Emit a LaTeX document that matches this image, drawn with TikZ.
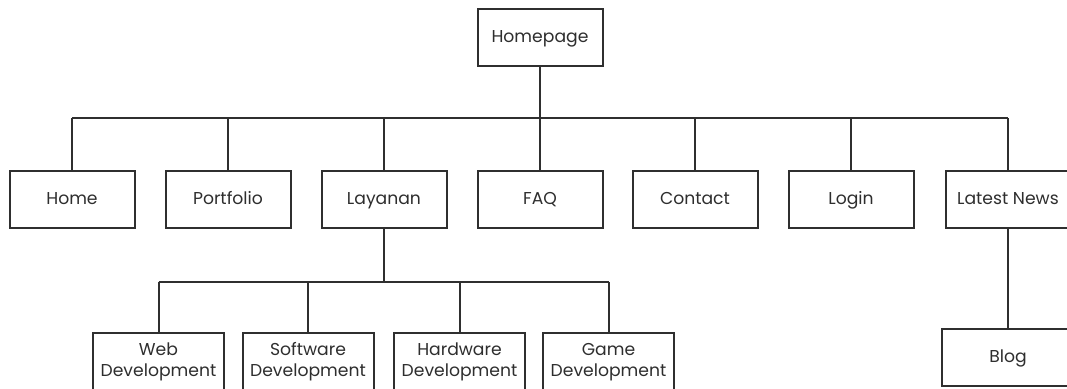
\documentclass[tikz,border=0pt]{standalone}
\usepackage{fontspec}
\setmainfont{Poppins}
\usepackage{xcolor}
\usetikzlibrary{positioning,calc}

\definecolor{linegray}{HTML}{2F2F2F}
\definecolor{textgray}{HTML}{2E2E2E}

\tikzset{
    pagebase/.style={draw=linegray, line width=1pt, fill=white, text=textgray,
        minimum width=62.5pt, minimum height=28.5pt, inner sep=0pt,
        font=\fontsize{8.6}{10.4}\selectfont},
    page/.style={pagebase, text height=6.4pt, text depth=1.8pt},
    subpage/.style={pagebase, minimum width=65.5pt, minimum height=29pt, align=center},
    link/.style={draw=linegray, line width=1pt}
}

\begin{document}
\begin{tikzpicture}[x=0.5pt, y=-0.5pt]
    \useasboundingbox (0,0) rectangle (1067,389);
    \clip (0,0) rectangle (1067,389);

    % Top
    \node[page] (hp) at (540,38) {Homepage};

    % Main menu
    \node[page] (home) at (72,200) {Home};
    \node[page] (portfolio) at (228,200) {Portfolio};
    \node[page] (layanan) at (384,200) {Layanan};
    \node[page] (faq) at (540,200) {FAQ};
    \node[page] (contact) at (695,200) {Contact};
    \node[page] (login) at (851,200) {Login};
    \node[page] (news) at (1008,200) {Latest News};

    % Layanan children
    \node[subpage] (web) at (158.5,362) {Web\\Development};
    \node[subpage] (software) at (308,362) {Software\\Development};
    \node[subpage] (hardware) at (459.5,362) {Hardware\\Development};
    \node[subpage] (game) at (608.5,362) {Game\\Development};

    % News child
    \node[page, minimum width=66pt] (blog) at (1008,358) {Blog};

    % Connectors
    \coordinate (bus1) at (540,118);
    \coordinate (bus2) at (384,282);
    \draw[link] (hp) -- (bus1);
    \draw[link] (home.north |- bus1) -- (news.north |- bus1);
    \foreach \n in {home,portfolio,layanan,faq,contact,login,news}
        \draw[link] (\n.north) -- (\n.north |- bus1);

    \draw[link] (layanan) -- (bus2);
    \draw[link] (web.north |- bus2) -- (game.north |- bus2);
    \foreach \n in {web,software,hardware,game}
        \draw[link] (\n.north) -- (\n.north |- bus2);

    \draw[link] (news) -- (blog);
\end{tikzpicture}
\end{document}
